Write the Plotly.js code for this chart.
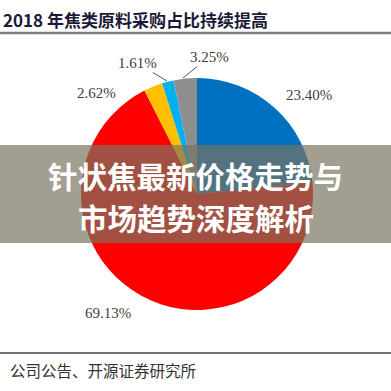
<!DOCTYPE html>
<html>
<head>
<meta charset="utf-8">
<script src="https://cdn.plot.ly/plotly-3.0.1.min.js"></script>
<style>html,body{margin:0;padding:0;background:#fff;}#chart{width:391px;height:391px;}</style>
</head>
<body>
<div id="chart"></div>
<script>
var categories = ['类别一', '类别二', '类别三', '类别四', '类别五'];
var values = [23.40, 69.13, 2.62, 1.61, 3.25];
var colors = ['#0070C0', '#FF0000', '#FFC000', '#00B0F0', '#8E8E8E'];
var titleText = '2018 年焦类原料采购占比持续提高';
var sourceText = '公司公告、开源证券研究所';
var bannerLines = ['针状焦最新价格走势与', '市场趋势深度解析'];

var W = 391, H = 391;
function px(x) { return x / W; }
function py(y) { return 1 - y / H; }

// label positions (pixels) for each slice and optional leader-line heads
var labelPos = [[309, 95], [108, 313], [96, 93], [137, 63], [209, 57]];
var leaderHead = [null, null, null, [167, 81], [183, 78]];

var annotations = [];
values.forEach(function (v, i) {
  var lp = labelPos[i], hd = leaderHead[i];
  var a = {
    text: v.toFixed(2) + '%',
    xref: 'paper', yref: 'paper',
    font: {family: 'Liberation Serif, Times New Roman, serif', size: 15, color: '#404040'},
    showarrow: false
  };
  if (hd) {
    a.x = px(hd[0]); a.y = py(hd[1]);
    a.showarrow = true; a.arrowhead = 0; a.arrowwidth = 1; a.arrowcolor = '#555555';
    a.ax = lp[0] - hd[0]; a.ay = lp[1] - hd[1];
    a.standoff = 0;
  } else {
    a.x = px(lp[0]); a.y = py(lp[1]);
    a.xanchor = 'center'; a.yanchor = 'middle';
  }
  annotations.push(a);
});

annotations.push({
  text: '<b>' + titleText + '</b>', xref: 'paper', yref: 'paper',
  x: px(1), y: py(20), xanchor: 'left', yanchor: 'middle', showarrow: false,
  font: {family: 'Noto Sans CJK SC, sans-serif', size: 17, color: '#1a1a38'}
});
annotations.push({
  text: sourceText, xref: 'paper', yref: 'paper',
  x: px(8), y: py(370), xanchor: 'left', yanchor: 'middle', showarrow: false,
  font: {family: 'Noto Sans CJK SC, sans-serif', size: 15.5, color: '#333333'}
});
annotations.push({
  text: '<b>' + bannerLines[0] + '</b>', xref: 'paper', yref: 'paper',
  x: px(195), y: py(175), xanchor: 'center', yanchor: 'middle', showarrow: false,
  font: {family: 'Noto Sans CJK SC, sans-serif', size: 29.5, color: '#ffffff'}
});
annotations.push({
  text: '<b>' + bannerLines[1] + '</b>', xref: 'paper', yref: 'paper',
  x: px(196), y: py(217), xanchor: 'center', yanchor: 'middle', showarrow: false,
  font: {family: 'Noto Sans CJK SC, sans-serif', size: 29.5, color: '#ffffff'}
});

var data = [{
  type: 'pie',
  labels: categories,
  values: values,
  marker: {colors: colors, line: {width: 0}},
  sort: false,
  direction: 'clockwise',
  rotation: 0,
  textinfo: 'none',
  hoverinfo: 'none',
  showlegend: false,
  domain: {x: [px(81), px(313)], y: [py(310), py(78)]}
}];

var layout = {
  width: W, height: H,
  margin: {l: 0, r: 0, t: 0, b: 0},
  paper_bgcolor: '#ffffff',
  showlegend: false,
  annotations: annotations,
  shapes: [
    {type: 'line', xref: 'paper', yref: 'paper', x0: 0, x1: 1, y0: py(33), y1: py(33),
     line: {color: '#7f7f7f', width: 2.5}},
    {type: 'line', xref: 'paper', yref: 'paper', x0: 0, x1: 1, y0: py(353), y1: py(353),
     line: {color: '#444444', width: 1.5}},
    {type: 'rect', xref: 'paper', yref: 'paper', x0: 0, x1: 1, y0: py(243), y1: py(145),
     fillcolor: 'rgba(120,116,96,0.69)', line: {width: 0}, layer: 'above'}
  ]
};

Plotly.newPlot('chart', data, layout, {staticPlot: true, displayModeBar: false});
</script>
</body>
</html>
